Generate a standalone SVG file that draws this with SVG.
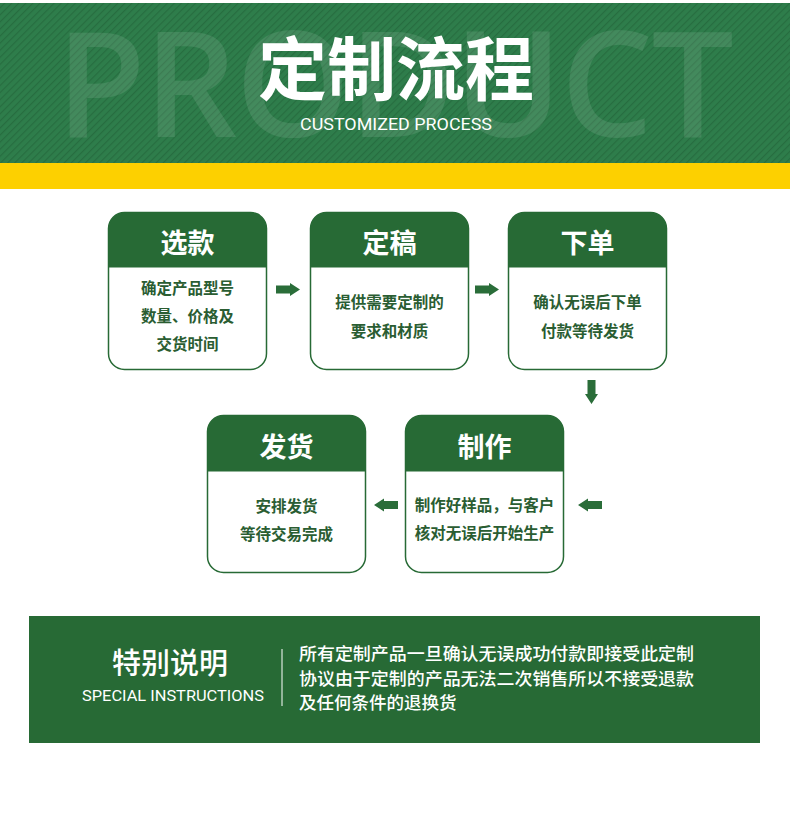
<svg xmlns="http://www.w3.org/2000/svg" width="790" height="824" viewBox="0 0 790 824">
<defs>
<pattern id="stripes" patternUnits="userSpaceOnUse" width="5" height="5" patternTransform="rotate(45)">
<rect width="5" height="5" fill="#2e7d4b"/>
<rect width="1.2" height="5" fill="#276d40"/>
</pattern>
<path id="arr" d="M-12,-4 H2 V-6.5 L12,0 L2,6.5 V4 H-12 Z"/>
<clipPath id="c1"><rect x="108.5" y="212.5" width="158" height="157" rx="16"/></clipPath>
<clipPath id="c2"><rect x="310.5" y="212.5" width="158" height="157" rx="16"/></clipPath>
<clipPath id="c3"><rect x="508.5" y="212.5" width="158" height="157" rx="16"/></clipPath>
<clipPath id="c4"><rect x="207.5" y="415.5" width="158" height="157" rx="16"/></clipPath>
<clipPath id="c5"><rect x="405.5" y="415.5" width="158" height="157" rx="16"/></clipPath>
</defs>
<style>
.cjk{font-family:"Noto Sans CJK SC","Noto Sans",sans-serif}
.frame{fill:#ffffff;stroke:#276a35;stroke-width:1.5}
.head{fill:#276a35}
.title{font-size:27px;font-weight:700;fill:#ffffff;text-anchor:middle}
.body{font-size:15.5px;font-weight:600;fill:#2a5d32;text-anchor:middle}
.arrow{fill:#2a6d39}
.note{font-size:17.5px;font-weight:500;fill:#ffffff}
</style>
<rect width="790" height="824" fill="#ffffff"/>
<g id="header">
<rect x="0" y="3" width="790" height="160" fill="url(#stripes)"/>
<rect x="0" y="163" width="790" height="26" fill="#fdd000"/>
<text x="56" y="137" font-family="'Open Sans','Noto Sans',sans-serif" font-size="146" font-weight="600" fill="#ffffff" fill-opacity="0.1" textLength="678" lengthAdjust="spacing">PRODUCT</text>
<text class="cjk" x="396" y="95" font-size="69" font-weight="700" fill="#ffffff" text-anchor="middle">定制流程</text>
<text x="300" y="130" font-family="Roboto,'Liberation Sans',sans-serif" font-size="17" fill="#ffffff" textLength="192" lengthAdjust="spacingAndGlyphs">CUSTOMIZED PROCESS</text>
</g>
<g id="node-xuankuan" class="cjk">
<rect class="frame" x="108.5" y="212.5" width="158" height="157" rx="16"/>
<rect class="head" x="108.5" y="212.5" width="158" height="55" clip-path="url(#c1)"/>
<text class="title" x="187.5" y="253">选款</text>
<text class="body" x="187.5" y="294">确定产品型号</text>
<text class="body" x="187.5" y="322">数量、价格及</text>
<text class="body" x="187.5" y="350">交货时间</text>
</g>
<g id="node-dinggao" class="cjk">
<rect class="frame" x="310.5" y="212.5" width="158" height="157" rx="16"/>
<rect class="head" x="310.5" y="212.5" width="158" height="55" clip-path="url(#c2)"/>
<text class="title" x="389.5" y="253">定稿</text>
<text class="body" x="389.5" y="308">提供需要定制的</text>
<text class="body" x="389.5" y="337">要求和材质</text>
</g>
<g id="node-xiadan" class="cjk">
<rect class="frame" x="508.5" y="212.5" width="158" height="157" rx="16"/>
<rect class="head" x="508.5" y="212.5" width="158" height="55" clip-path="url(#c3)"/>
<text class="title" x="587.5" y="253">下单</text>
<text class="body" x="587.5" y="308">确认无误后下单</text>
<text class="body" x="587.5" y="337">付款等待发货</text>
</g>
<g id="node-zhizuo" class="cjk">
<rect class="frame" x="405.5" y="415.5" width="158" height="157" rx="16"/>
<rect class="head" x="405.5" y="415.5" width="158" height="56" clip-path="url(#c5)"/>
<text class="title" x="484.5" y="457">制作</text>
<text class="body" x="484.5" y="511">制作好样品，与客户</text>
<text class="body" x="484.5" y="539">核对无误后开始生产</text>
</g>
<g id="node-fahuo" class="cjk">
<rect class="frame" x="207.5" y="415.5" width="158" height="157" rx="16"/>
<rect class="head" x="207.5" y="415.5" width="158" height="56" clip-path="url(#c4)"/>
<text class="title" x="286.5" y="457">发货</text>
<text class="body" x="286.5" y="512">安排发货</text>
<text class="body" x="286.5" y="540">等待交易完成</text>
</g>
<g id="connectors" class="arrow">
<use href="#arr" transform="translate(288,289.5)"/>
<use href="#arr" transform="translate(487,289.5)"/>
<use href="#arr" transform="translate(591.5,392) rotate(90)"/>
<use href="#arr" transform="translate(590,505) rotate(180)"/>
<use href="#arr" transform="translate(386,505) rotate(180)"/>
</g>
<g id="special-note">
<rect x="29" y="616" width="731" height="127" fill="#276a35"/>
<text class="cjk" x="170" y="674" font-size="29" font-weight="500" fill="#ffffff" text-anchor="middle">特别说明</text>
<text x="82" y="701" font-family="Roboto,'Liberation Sans',sans-serif" font-size="15" fill="#ffffff" textLength="182" lengthAdjust="spacingAndGlyphs">SPECIAL INSTRUCTIONS</text>
<line x1="282" y1="649" x2="282" y2="706" stroke="#ffffff" stroke-width="1"/>
<text class="cjk note" x="299" y="660" textLength="395" lengthAdjust="spacingAndGlyphs">所有定制产品一旦确认无误成功付款即接受此定制</text>
<text class="cjk note" x="299" y="685" textLength="395" lengthAdjust="spacingAndGlyphs">协议由于定制的产品无法二次销售所以不接受退款</text>
<text class="cjk note" x="299" y="709">及任何条件的退换货</text>
</g>
</svg>
